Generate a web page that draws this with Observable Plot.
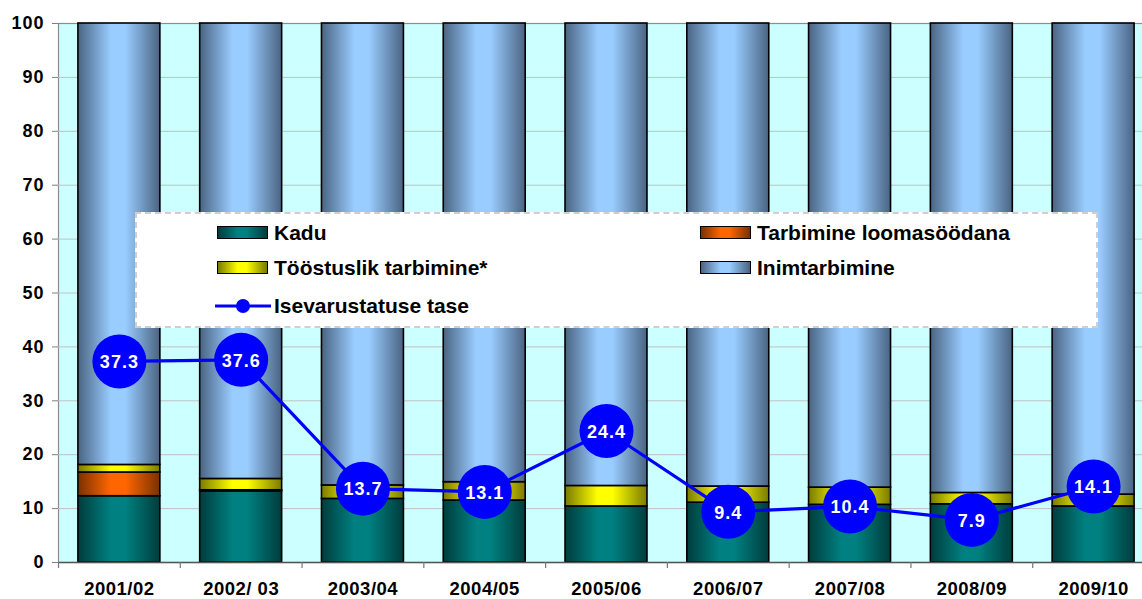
<!DOCTYPE html>
<html>
<head>
<meta charset="utf-8">
<script src="https://cdn.jsdelivr.net/npm/d3@7"></script>
<script src="https://cdn.jsdelivr.net/npm/@observablehq/plot@0.6"></script>
<style>
html, body { margin: 0; padding: 0; background: #fff; overflow: hidden; width: 1142px; height: 599px; }
#wrap { position: relative; width: 1154px; height: 599px; font-family: "Liberation Sans", Arial, sans-serif; }
#wrap svg { display: block; }
#chart svg g[aria-label^="y-axis"] text { font-size: 18px; letter-spacing: 1px; }
#chart svg g[aria-label^="x-axis"] text { font-size: 18.5px; letter-spacing: 0.5px; }
#legend { position: absolute; left: 135px; top: 212px; width: 963px; height: 116px; background: #fff; border: 2px dashed #cfcfcf; box-sizing: border-box; }
.item { position: absolute; font: bold 21px "Liberation Sans", Arial, sans-serif; line-height: 24px; color: #000; white-space: nowrap; }
.sw { position: absolute; width: 49px; height: 11px; border: 1.5px solid #000; }
</style>
</head>
<body>
<div id="wrap">
  <div id="chart"></div>
</div>
<script>
// ---- data ----
const periods = ["2001/02", "2002/ 03", "2003/04", "2004/05", "2005/06", "2006/07", "2007/08", "2008/09", "2009/10"];
const seriesNames = ["Kadu", "Tarbimine loomasöödana", "Tööstuslik tarbimine*", "Inimtarbimine"];
const kadu          = [12.3, 13.2, 11.8, 11.5, 10.4, 11.1, 10.7, 10.8, 10.4];
const loomasoodana  = [4.4, 0.2, 0, 0, 0, 0, 0, 0, 0];
const toostuslik    = [1.4, 2.1, 2.5, 3.4, 3.8, 3.0, 3.2, 2.1, 2.2];
const inimtarbimine = [81.9, 84.5, 85.7, 85.1, 85.8, 85.9, 86.1, 87.1, 87.4];
const isevarustatus = [37.3, 37.6, 13.7, 13.1, 24.4, 9.4, 10.4, 7.9, 14.1];
const lineName = "Isevarustatuse tase";
const yTicks = [0, 10, 20, 30, 40, 50, 60, 70, 80, 90, 100];

// gradient ids / colours per series (edge, centre)
const gradIds = ["gKadu", "gLooma", "gToost", "gInim"];
const gradCols = [["#003c3c", "#008080"], ["#7a3000", "#ff6600"], ["#7a7a00", "#ffff00"], ["#4a6482", "#99ccff"]];

const seriesValues = [kadu, loomasoodana, toostuslik, inimtarbimine];
const rows = [];
periods.forEach((p, i) => {
  seriesNames.forEach((s, j) => {
    if (seriesValues[j][i] > 0) rows.push({period: p, series: s, value: seriesValues[j][i]});
  });
});
const lineRows = periods.map((p, i) => ({period: p, value: isevarustatus[i]}));

const W = 1154, H = 599, mL = 58, mR = 0, mT = 23, mB = 37;
const padI = 0.327;
const step = (W - mL - mR) / periods.length;

const chart = Plot.plot({
  width: W, height: H,
  marginLeft: mL, marginRight: mR, marginTop: mT, marginBottom: mB,
  style: {fontFamily: "'Liberation Sans', Arial, sans-serif", fontSize: "18px", fontWeight: "bold", color: "#000", background: "transparent", maxWidth: "none"},
  x: {type: "band", domain: periods, paddingInner: padI, paddingOuter: padI / 2, round: false, tickSize: 0, tickPadding: 19, label: null},
  y: {domain: [0, 100], ticks: yTicks, tickSize: 6, tickPadding: 8, label: null},
  color: {type: "ordinal", domain: seriesNames, range: gradIds.map(id => `url(#${id})`)},
  marks: [
    Plot.frame({fill: "#ccffff", stroke: "#8c8c8c", strokeWidth: 1.2}),
    Plot.ruleY(yTicks.slice(1, -1), {stroke: "#c0c0c0", strokeWidth: 1}),
    Plot.barY(rows, Plot.stackY({x: "period", y: "value", fill: "series", order: seriesNames, stroke: "#000", strokeWidth: 1.6})),
    Plot.ruleY([0], {stroke: "#555", strokeWidth: 1.5}),
    Plot.ruleX(periods, {x: d => d, y1: 0, y2: 0, insetBottom: -6, dx: step / 2, stroke: "#777", strokeWidth: 1.2}),
    Plot.ruleX(periods.slice(0, 1), {x: d => d, y1: 0, y2: 0, insetBottom: -6, dx: -step / 2, stroke: "#777", strokeWidth: 1.2}),
    Plot.line(lineRows, {x: "period", y: "value", stroke: "#0000ff", strokeWidth: 3.2}),
    Plot.dot(lineRows, {x: "period", y: "value", r: 27, fill: "#0000ff", stroke: "none"}),
    Plot.text(lineRows, {x: "period", y: "value", text: d => d.value.toFixed(1), fill: "#fff", fontSize: 18, fontWeight: "bold", dy: 1})
  ]
});

// gradient definitions
const defs = d3.select(chart).insert("defs", ":first-child");
gradIds.forEach((id, k) => {
  const g = defs.append("linearGradient").attr("id", id).attr("x1", 0).attr("x2", 1).attr("y1", 0).attr("y2", 0);
  g.append("stop").attr("offset", "0%").attr("stop-color", gradCols[k][0]);
  g.append("stop").attr("offset", "40%").attr("stop-color", gradCols[k][1]);
  g.append("stop").attr("offset", "58%").attr("stop-color", gradCols[k][1]);
  g.append("stop").attr("offset", "100%").attr("stop-color", gradCols[k][0]);
});
// grey y tick marks, letter-spacing on circle labels
d3.select(chart).selectAll('[aria-label="y-axis"] line, [aria-label="y-axis tick"] path').attr("stroke", "#808080");
d3.select(chart).selectAll('g[aria-label="text"] text').style("letter-spacing", "1px");
document.getElementById("chart").appendChild(chart);

// legend (HTML overlay)
const wrap = document.getElementById("wrap");
const lg = document.createElement("div");
lg.id = "legend";
wrap.appendChild(lg);
const cssGrad = k => `linear-gradient(to right, ${gradCols[k][0]} 0%, ${gradCols[k][1]} 40%, ${gradCols[k][1]} 58%, ${gradCols[k][0]} 100%)`;
const legendItems = [
  {k: 0, name: seriesNames[0], x: 217, y: 233},
  {k: 1, name: seriesNames[1], x: 700, y: 233},
  {k: 2, name: seriesNames[2], x: 217, y: 268},
  {k: 3, name: seriesNames[3], x: 700, y: 268}
];
legendItems.forEach(it => {
  const sw = document.createElement("div");
  sw.className = "sw";
  sw.style.left = it.x + "px";
  sw.style.top = (it.y - 7) + "px";
  sw.style.background = cssGrad(it.k);
  wrap.appendChild(sw);
  const t = document.createElement("div");
  t.className = "item";
  t.style.left = (it.x + 57) + "px";
  t.style.top = (it.y - 12) + "px";
  t.textContent = it.name;
  wrap.appendChild(t);
});
const ls = document.createElementNS("http://www.w3.org/2000/svg", "svg");
ls.setAttribute("width", 56); ls.setAttribute("height", 18);
ls.style.position = "absolute"; ls.style.left = "215px"; ls.style.top = "297px";
ls.innerHTML = '<line x1="0" x2="56" y1="9" y2="9" stroke="#0000ff" stroke-width="3"/><circle cx="28" cy="9" r="7" fill="#0000ff"/>';
wrap.appendChild(ls);
const lt = document.createElement("div");
lt.className = "item";
lt.style.left = "274px"; lt.style.top = "294px";
lt.textContent = lineName;
wrap.appendChild(lt);
</script>
</body>
</html>
